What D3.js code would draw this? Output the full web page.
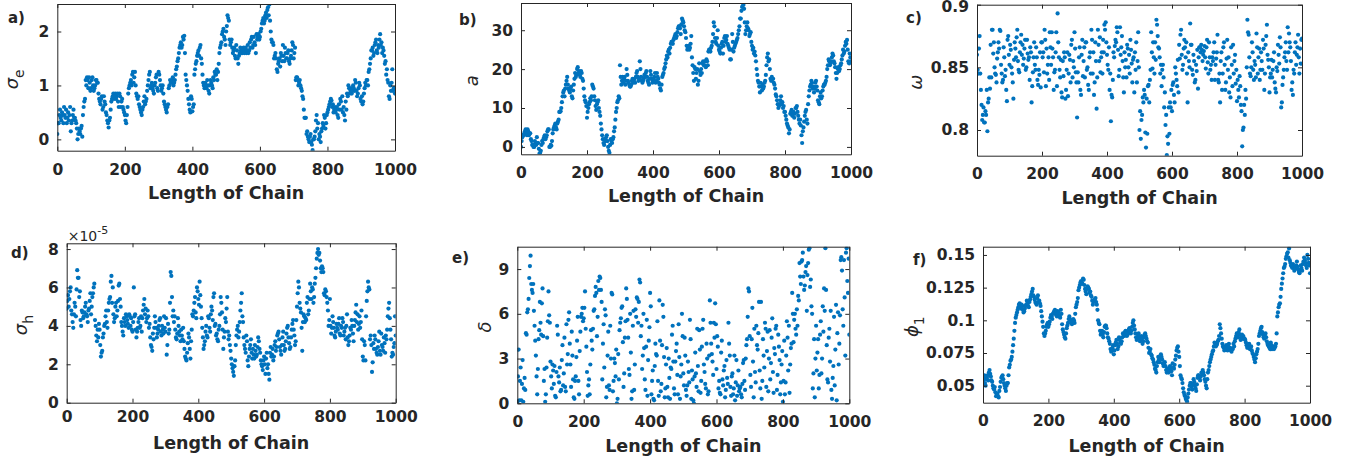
<!DOCTYPE html>
<html>
<head>
<meta charset="utf-8">
<script src="https://cdn.jsdelivr.net/npm/d3@7"></script>
<style>
  body { margin: 0; background: #fff; }
  text { font-family: "DejaVu Sans", sans-serif; fill: #262626; }
</style>
</head>
<body>
<div id="chart"></div>
<script>
var svgWidth = 1362;
var svgHeight = 462;

// chain samples: main arrays at iterations 0,4,...,1000,
// the *Mid arrays at iterations 2,6,...,998
var iterStep = 4;
var chainTicks = [0, 200, 400, 600, 800, 1000];

// a) sigma_e
var sigmaE = [
  0.1,0.3,0.55,0.35,0.45,0.6,0.4,0.3,0.5,0.45,0.15,0.35,0.55,0.4,0.3,0.0,0.2,0.1,0.25,0.45,0.7,1.1,1.15,0.95,1.05,
  0.95,1.15,0.9,1.0,1.1,1.05,0.75,0.65,0.8,0.6,0.7,0.5,0.35,0.22,0.4,0.7,0.8,0.75,0.85,0.8,0.7,0.85,0.6,0.75,0.55,
  0.45,0.3,0.6,0.95,1.05,1.0,1.25,1.15,1.0,0.8,0.8,0.6,0.5,0.55,0.7,0.65,0.75,1.0,1.2,0.95,1.05,0.9,1.0,1.15,0.95,
  1.25,1.1,0.9,1.0,0.7,0.6,0.5,0.65,1.0,1.05,1.1,1.0,1.1,1.3,1.45,1.6,1.75,1.7,1.9,1.92,1.2,1.0,0.75,0.55,0.8,
  0.52,0.65,1.3,1.45,1.6,1.55,1.75,1.4,1.05,0.95,1.0,1.1,0.9,1.0,1.05,0.95,1.1,1.2,1.3,1.25,1.6,1.75,1.95,2.05,1.85,
  2.0,2.3,2.2,1.75,1.85,1.6,1.7,1.5,1.65,1.4,1.6,1.65,1.6,1.7,1.65,1.6,1.75,1.65,1.7,1.9,1.75,1.8,1.6,1.85,1.95,
  1.9,2.05,2.2,2.15,2.3,2.25,2.45,2.5,2.0,1.8,1.75,1.55,1.5,1.25,1.45,1.35,1.55,1.75,1.45,1.6,1.5,1.65,1.4,1.55,1.8,
  1.5,1.7,1.15,1.1,1.05,1.0,0.9,0.75,0.4,0.4,0.15,0.0,0.05,-0.05,-0.2,0.0,0.15,0.45,0.3,0.1,-0.05,0.2,0.25,0.4,0.3,
  0.5,0.6,0.7,0.72,0.65,0.55,0.5,0.6,0.4,0.55,0.7,0.8,0.6,0.35,0.55,0.8,0.95,0.9,0.85,1.0,0.9,1.05,0.8,0.95,1.0,
  0.7,0.65,0.85,1.05,1.1,1.0,1.3,1.5,1.65,1.55,1.75,1.85,1.6,1.7,1.95,1.8,1.7,1.55,1.45,1.3,1.05,0.75,0.9,1.3,0.95,
  0.85
];
var sigmaEMid = [
  0.3,0.45,0.4,0.5,0.3,0.45,0.55,0.4,0.35,0.6,0.3,0.45,0.4,0.35,0.2,0.1,0.15,0.2,0.05,0.6,0.75,1.0,1.1,1.15,0.9,
  1.1,1.0,0.95,1.1,1.05,0.85,0.7,0.75,0.55,0.8,0.65,0.45,0.3,0.35,0.55,0.75,0.85,0.8,0.75,0.85,0.6,0.8,0.7,0.6,0.5,
  0.35,0.45,0.85,1.0,1.1,1.2,1.05,1.25,0.85,0.75,0.65,0.55,0.45,0.6,0.8,0.7,0.9,1.1,1.25,1.0,0.95,0.85,1.05,1.2,0.9,
  1.2,1.0,0.95,0.85,0.65,0.55,0.6,0.95,1.1,1.05,1.15,1.05,1.2,1.35,1.5,1.7,1.8,1.75,1.85,1.6,1.1,0.9,0.65,0.5,0.75,
  0.6,1.2,1.4,1.55,1.65,1.7,1.5,1.2,1.0,1.05,0.95,1.0,0.85,1.1,1.0,1.15,1.25,1.2,1.1,1.4,1.7,1.8,2.0,1.9,1.75,
  2.1,2.25,1.85,1.8,1.7,1.65,1.55,1.75,1.5,1.55,1.7,1.6,1.65,1.6,1.7,1.65,1.6,1.8,1.85,1.7,1.9,1.75,1.95,1.9,1.85,
  2.0,2.15,2.25,2.2,2.35,2.4,2.3,2.2,1.85,1.8,1.5,1.6,1.3,1.4,1.5,1.6,1.45,1.55,1.7,1.5,1.6,1.45,1.5,1.65,1.75,
  1.6,1.1,1.15,1.0,1.1,0.95,0.8,0.55,0.4,0.1,0.05,-0.05,0.1,-0.1,0.0,0.05,0.35,0.2,0.0,0.05,0.15,0.3,0.45,0.2,0.45,
  0.55,0.65,0.75,0.6,0.5,0.6,0.55,0.45,0.65,0.75,0.55,0.5,0.45,0.7,0.85,1.0,0.85,0.95,0.9,0.95,1.1,0.9,0.85,1.05,0.75,
  0.8,0.7,0.95,1.0,1.1,1.25,1.4,1.65,1.7,1.6,1.8,1.65,1.75,1.85,1.75,1.6,1.65,1.4,1.2,1.1,0.8,1.0,1.05,0.9,0.95
];
var sigmaETicks = [0, 1, 2];

// b) a
var aParam = [
  0,2.5,3,4,3.5,4.5,3,3.5,1.5,0.5,0,1,2.5,1,-1.7,-1,1.5,2,3,2.5,4,4.5,0,0.3,3.5,
  5,6,4.5,6.5,9,9.2,11.5,14,13,16,18,15,14,15.5,12.5,16,19,18.5,20.5,19.5,18,19,17,13,11.5,
  7.5,10,11.5,12,16,15,12,9.5,11.5,10,8,4.5,2,0.5,1.5,3,0,-1.5,2,1,2.5,5,9,11.5,13,
  21,16,18,17.5,16,20,17,16,15.5,17,16.5,17.5,18,19.5,17,22,18,16.5,17.5,18,19.5,17,16,19.5,17.5,
  17,18,16.5,19,17.5,16,14.5,18,19,20.5,22.5,23,25,25.5,27,26.5,28,29,28.5,30.5,31,29,33,32,30,
  28,25,26,25.5,28.5,21,17,20,19,16,21.5,18.5,19,22,21,20.5,22,24.5,25,25.5,27,32,28,26.5,30,
  25,24,26.5,24,28,27,28.5,26,25,22.5,29,24.5,26,27,28,30,33,35,37,35.5,29,31,30.5,28.5,29.5,
  26,25.5,24.5,22,18.5,16.5,14,15.5,16,15.5,17,21,24,22.5,17.5,18,17.5,16,13.5,12,10,11,13,11.5,10.5,
  9,7,5.5,3.5,8.5,9.5,8.5,7.5,10,10.5,8,6,5.5,1,5,8,9.5,6,13,15.5,17,15,14,16.5,15.5,
  12,11,14,13,15.5,16,17,20,22.5,21,22,24,22,20.5,17.5,20,19.5,21,22.5,25,24.5,27,27.5,22,24,
  22
];
var aParamMid = [
  1.5,3,3.5,4.5,3,4,3.5,2,0.5,0,1.5,0.5,1,-0.5,-1.5,0.5,1,2.5,2,3,4.5,0,0.5,1.5,4.5,
  5.5,5,6,7,9,10,13,14.5,15,17,16,14.5,15,13,14.5,17.5,18,20,19,18.5,19.5,17.5,15,12,10.5,
  9,11,12.5,13,15.5,13,10.5,11,12,9,6,3,1,2,2.5,1.5,-1,0.5,1.5,2,4,7,10,12,12.5,
  18,17,16.5,18,17,18.5,16.5,15.5,16,17.5,17,16.5,19,18,17.5,20,17,17,18.5,19,18,16.5,17.5,18.5,16.5,
  17.5,19,17,18,16.5,15,16,18.5,20,21.5,23.5,24.5,24,26.5,27,27.5,28.5,28,29.5,31,30.5,31.5,32.5,31,29.5,
  26,25.5,25,26.5,23,19,20.5,17.5,20,17,19.5,20,21.5,21,22,22.5,21,25,24.5,26,29,31,27,28,26,
  24.5,25.5,27,26,28.5,27.5,26.5,25.5,22.5,25,27,25.5,26.5,27.5,29,31,33,36,36.5,32,30,32,30,29,27,
  25,24,23.5,20,17,15.5,16.5,14.5,15,16.5,18.5,23,22,20,17,17.5,16.5,15,13,11,10.5,12,11,10,9,
  8,6,5,4.5,9,8,9,8.5,10,9,7,7,3,4,6.5,9,7,11,14.5,16,16.5,15.5,15,17,14.5,
  11.5,13,12.5,14.5,16,16.5,18,21,22,21.5,23,23.5,21.5,19,19,20.5,20,21.5,23.5,24,26,26.5,25,21.5,23
];
var aParamTicks = [0, 10, 20, 30];

// c) omega
var omega = [
  .860,.845,.875,.832,.808,.818,.806,.812,.799,.825,.833,.842,.880,.870,.845,.838,.862,.865,.879,.845,.840,.858,.848,.823,.875,
  .852,.864,.845,.825,.870,.858,.880,.848,.862,.876,.868,.857,.872,.850,.861,.858,.866,.822,.846,.870,.848,.858,.836,.844,.834,
  .870,.862,.880,.835,.845,.858,.878,.852,.865,.832,.848,.878,.893,.858,.842,.830,.855,.862,.825,.848,.827,.860,.838,.872,.855,
  .878,.846,.810,.838,.866,.828,.872,.855,.842,.870,.850,.832,.862,.880,.845,.828,.870,.817,.880,.855,.846,.862,.872,.884,.886,
  .860,.848,.832,.807,.826,.862,.867,.870,.878,.843,.882,.866,.855,.830,.850,.842,.865,.860,.872,.853,.856,.830,.848,.838,.878,
  .800,.793,.812,.822,.828,.786,.797,.836,.840,.878,.849,.858,.870,.888,.875,.865,.845,.835,.852,.818,.804,.780,.789,.797,.818,
  .815,.838,.822,.845,.835,.830,.857,.880,.848,.865,.866,.870,.822,.855,.885,.868,.844,.855,.840,.847,.833,.866,.862,.864,.860,
  .867,.849,.872,.845,.858,.852,.858,.862,.840,.857,.876,.838,.822,.862,.845,.870,.832,.857,.848,.830,.826,.852,.868,.855,.837,
  .823,.832,.843,.820,.787,.802,.812,.825,.888,.876,.845,.850,.862,.840,.852,.877,.845,.865,.848,.855,.872,.832,.868,.884,.856,
  .830,.845,.842,.855,.838,.830,.847,.860,.874,.818,.836,.848,.862,.855,.882,.877,.866,.832,.828,.845,.870,.860,.876,.845,.853,
  .873
];
var omegaMid = [
  .848,.865,.845,.820,.812,.806,.815,.832,.822,.842,.868,.880,.861,.850,.844,.857,.870,.880,.852,.838,.866,.843,.832,.872,.860,
  .868,.850,.838,.856,.865,.874,.855,.846,.870,.860,.852,.865,.848,.872,.856,.840,.862,.835,.858,.852,.866,.840,.848,.862,.870,
  .858,.846,.872,.865,.852,.840,.866,.878,.858,.846,.862,.835,.870,.848,.856,.826,.843,.858,.832,.862,.845,.856,.868,.842,.850,
  .865,.838,.846,.858,.832,.860,.843,.866,.870,.848,.836,.858,.845,.872,.862,.838,.855,.842,.868,.874,.858,.845,.862,.880,.870,
  .852,.866,.845,.828,.840,.858,.872,.882,.864,.848,.860,.875,.842,.862,.856,.868,.850,.845,.864,.838,.858,.862,.870,.855,.850,
  .815,.808,.826,.832,.798,.825,.835,.822,.848,.862,.870,.845,.856,.884,.866,.858,.852,.848,.842,.830,.812,.795,.818,.822,.832,
  .836,.828,.850,.840,.856,.868,.876,.860,.852,.872,.858,.845,.862,.850,.868,.848,.860,.838,.852,.864,.858,.866,.868,.855,.863,
  .858,.866,.854,.870,.848,.840,.855,.870,.852,.862,.840,.845,.855,.832,.866,.852,.838,.872,.858,.842,.866,.835,.845,.860,.848,
  .840,.826,.835,.815,.800,.820,.832,.850,.878,.858,.843,.870,.848,.855,.842,.866,.858,.840,.862,.848,.865,.845,.875,.860,.850,
  .842,.856,.848,.862,.833,.850,.868,.853,.866,.822,.842,.858,.870,.848,.862,.870,.855,.838,.848,.862,.852,.866,.858,.865,.872
];
var omegaTicks = [0.8, 0.85, 0.9];

// d) sigma_h, in units of 1e-5
var sigmaH = [
  4.9,5.6,5.4,6.0,4.6,3.9,5.2,4.5,6.9,6.5,5.8,4.0,4.7,4.5,5.0,4.6,4.2,4.9,5.7,5.0,5.7,6.2,4.0,3.2,3.4,
  3.8,2.4,2.7,3.6,4.1,4.8,3.9,5.2,5.5,6.6,6.0,4.2,5.0,4.5,5.3,6.2,5.0,4.0,3.5,4.2,4.6,4.3,3.9,4.5,4.4,
  3.7,6.0,4.6,3.4,3.9,4.4,4.0,3.7,4.8,5.4,4.9,4.4,4.5,4.1,3.0,2.7,3.3,4.5,3.9,3.6,4.0,4.4,3.5,3.8,4.5,
  3.7,2.5,4.1,3.8,6.8,5.5,4.8,4.5,3.4,3.6,4.0,3.5,3.8,3.3,3.2,2.4,2.2,3.1,3.4,2.3,3.8,4.5,5.2,4.7,6.0,
  5.4,6.3,5.0,3.9,2.8,3.2,4.0,3.4,4.4,3.7,5.0,4.3,5.7,4.1,3.6,3.2,4.0,5.5,4.7,2.8,3.7,4.2,5.5,3.3,3.0,
  2.3,1.8,1.4,2.2,3.5,4.0,3.7,4.8,5.7,4.2,3.0,2.6,3.2,1.9,2.8,3.3,2.3,2.5,3.0,2.4,2.9,3.2,2.6,2.0,1.7,
  2.4,1.5,2.6,2.0,1.2,2.9,2.5,2.2,3.0,2.7,3.5,3.7,2.9,2.5,3.4,3.0,2.8,3.6,4.0,3.1,2.9,3.8,4.3,3.5,3.2,
  5.0,6.3,5.2,4.7,2.7,4.6,4.2,4.3,5.5,4.8,6.2,5.4,5.9,5.5,6.5,7.5,8.0,7.8,7.0,7.1,6.8,5.6,5.8,5.2,4.0,
  5.4,3.6,4.5,3.9,3.4,4.1,3.8,4.4,3.5,3.9,4.2,3.7,3.3,4.6,3.0,3.5,3.8,4.0,3.2,4.3,5.1,4.6,4.1,3.9,4.8,
  2.4,3.2,2.2,5.3,6.3,5.9,3.5,1.6,3.1,3.5,2.8,2.5,3.2,2.7,3.6,2.9,3.4,2.6,3.3,4.5,5.2,3.8,2.4,2.5,3.1,
  3.5
];
var sigmaHMid = [
  5.3,5.0,5.8,4.8,4.2,4.6,5.0,5.9,6.5,5.5,4.3,4.8,4.4,4.7,5.2,4.5,4.8,5.3,4.6,5.5,6.0,4.3,3.5,3.8,4.1,
  3.0,2.6,3.4,4.0,4.5,4.2,4.8,5.4,6.3,5.2,4.6,4.4,5.2,4.8,6.1,5.4,4.2,3.7,4.4,4.0,4.5,4.1,4.6,4.0,3.8,
  4.2,4.5,3.8,3.7,4.2,3.9,4.5,4.4,5.1,4.6,4.2,4.8,3.9,3.4,2.9,3.6,3.9,4.2,3.4,3.8,4.3,3.7,4.0,3.6,3.9,
  4.4,3.0,3.6,5.2,6.6,4.5,4.2,3.8,3.3,4.4,3.7,3.2,3.5,3.9,2.8,2.3,2.6,3.6,2.8,3.2,4.6,4.8,5.5,4.4,5.8,
  5.1,5.6,4.4,3.4,3.0,3.7,3.5,4.5,3.9,4.6,4.8,5.5,4.0,3.5,3.3,3.8,4.6,5.2,3.8,3.4,4.4,4.9,3.7,3.5,2.7,
  2.0,1.6,1.9,3.0,3.8,3.4,4.2,5.2,4.5,3.4,2.8,3.5,2.2,2.4,3.0,2.6,2.8,2.3,2.7,2.5,3.4,2.8,2.2,1.9,2.2,
  2.0,2.3,1.8,1.5,2.6,2.4,2.8,2.4,3.2,2.9,3.6,3.3,2.7,3.0,3.7,2.7,3.2,3.9,3.4,2.8,3.4,4.1,3.8,3.0,4.3,
  5.7,6.0,4.9,3.9,4.2,4.5,4.4,5.2,4.6,5.4,5.8,6.0,5.2,6.2,7.0,7.8,7.7,7.4,6.8,7.0,5.7,5.9,5.5,4.8,4.3,
  4.0,3.9,4.2,3.5,3.7,3.9,4.1,3.6,4.0,4.4,3.5,3.9,4.0,3.4,3.2,3.9,4.3,3.6,4.0,4.7,4.2,3.8,4.5,4.2,3.3,
  2.2,3.0,4.5,5.8,6.0,3.3,3.0,2.1,2.8,3.3,2.6,2.9,3.7,2.5,3.0,2.7,3.1,3.5,3.8,4.9,4.4,3.3,2.6,2.9,4.5
];
var sigmaHTicks = [0, 2, 4, 6, 8];

// e) delta
var delta = [
  0.1,3.6,1.5,0.2,2.9,1.0,0.9,4.6,6.3,8.4,9.9,7.6,8.0,5.2,3.2,0.6,4.3,6.8,4.6,7.7,1.5,0.1,2.4,5.5,5.9,
  2.8,1.0,2.2,2.5,0.4,5.2,1.8,2.4,0.9,3.9,2.0,1.1,5.3,3.3,6.1,2.6,4.8,1.6,0.3,1.8,4.2,1.5,3.5,5.8,6.4,
  5.7,7.5,3.8,0.5,1.6,2.6,4.2,5.0,6.3,7.8,4.5,8.2,8.5,7.6,1.6,5.3,6.3,0.4,3.2,1.2,5.2,7.4,0.8,3.0,1.8,
  0.0,3.3,4.9,5.7,6.5,1.1,4.4,7.7,5.6,2.3,6.0,0.3,5.2,0.9,6.3,7.1,5.4,8.3,4.5,2.3,6.0,1.6,3.8,0.5,4.2,
  7.4,0.6,2.2,0.2,4.0,3.2,1.5,6.9,0.8,3.9,5.8,0.4,2.6,1.1,3.0,0.3,2.3,5.2,1.0,2.8,4.0,0.6,3.1,1.8,6.0,
  2.0,4.4,0.9,1.2,2.1,5.6,0.3,1.6,0.0,3.4,1.1,2.5,4.9,0.7,3.8,5.6,2.1,1.0,3.0,0.8,6.9,4.0,2.8,5.4,6.7,
  2.3,3.8,1.5,0.6,4.2,1.2,2.5,0.9,1.7,5.4,3.2,0.5,2.0,1.0,0.2,2.9,1.2,0.8,1.1,0.4,2.7,1.5,3.0,4.3,7.7,
  4.5,1.1,6.4,0.4,2.1,5.2,3.6,6.8,1.0,0.3,4.3,2.4,5.0,3.5,0.8,4.9,2.7,5.7,0.7,3.3,5.2,1.9,3.8,0.6,2.6,
  0.1,4.2,1.4,5.5,2.2,0.7,3.7,7.4,4.1,6.0,4.6,5.2,6.9,8.5,9.5,10.1,7.6,8.8,6.2,9.4,10.4,8.3,6.0,2.0,0.4,
  5.2,3.4,1.0,4.6,2.0,6.5,7.7,10.4,3.9,1.4,5.0,6.2,0.3,2.5,1.2,6.6,4.7,2.6,5.9,9.8,6.3,9.6,3.2,10.4,7.4,
  4.6
];
var deltaMid = [
  1.8,0.2,2.4,1.3,0.1,1.7,4.7,6.1,7.0,9.2,8.0,7.4,6.2,4.2,1.8,2.3,4.9,5.4,6.7,4.5,2.3,0.6,4.4,7.5,5.4,
  1.8,2.6,1.3,0.5,2.1,4.6,1.4,0.8,2.9,1.2,4.4,0.8,2.6,5.6,4.0,1.1,3.2,0.4,1.5,3.1,5.8,0.6,4.8,6.0,5.5,
  6.4,5.0,2.1,1.2,0.6,4.9,3.6,6.2,7.2,7.4,5.8,7.6,8.4,6.8,4.0,2.4,5.9,1.1,4.8,0.9,3.0,7.3,1.5,2.7,3.6,
  0.3,1.6,5.4,6.4,4.1,2.0,5.5,7.0,4.4,1.9,3.4,0.8,6.2,2.6,5.8,7.0,6.8,8.1,5.2,3.2,3.7,0.9,5.6,2.9,5.1,
  6.5,1.5,0.3,2.5,3.3,5.5,0.5,4.2,1.3,6.6,3.1,1.0,3.7,0.4,1.7,2.4,4.6,2.8,0.6,3.5,1.9,5.3,0.3,2.6,4.5,
  1.2,3.2,0.5,2.8,1.4,4.3,2.2,0.2,1.8,2.0,5.0,0.8,3.6,1.5,5.0,2.6,1.3,4.0,0.6,3.2,5.4,3.3,1.9,4.4,5.3,
  4.5,1.0,0.7,3.4,1.6,2.2,0.4,2.9,1.3,4.0,1.1,1.8,0.6,3.2,1.4,0.5,2.2,1.0,0.6,1.3,2.9,0.9,3.9,5.8,7.5,
  1.9,4.3,2.8,5.0,1.4,3.9,4.7,2.2,6.8,1.5,3.2,5.4,1.1,4.8,3.0,1.6,4.4,2.1,3.7,5.0,0.9,4.6,2.9,1.4,3.5,
  1.5,0.6,3.2,4.4,5.2,2.6,4.0,6.0,5.6,5.0,6.3,7.2,9.4,8.0,9.6,8.5,7.9,9.2,8.6,10.3,7.8,6.5,1.0,4.3,3.0,
  2.2,4.3,1.9,5.5,3.0,4.8,6.2,7.6,1.6,4.4,2.8,0.9,1.7,5.8,3.6,0.2,6.1,4.0,9.6,8.9,5.2,7.1,10.1,8.2,9.7
];
var deltaTicks = [0, 3, 6, 9];

// f) phi_1
var phi1 = [
  .054,.058,.050,.056,.054,.062,.057,.053,.048,.049,.042,.044,.041,.049,.056,.058,.052,.048,.050,.052,.064,.069,.072,.081,.092,
  .102,.106,.110,.113,.109,.111,.106,.109,.112,.113,.110,.116,.120,.124,.118,.114,.112,.119,.115,.111,.103,.095,.088,.092,.097,
  .095,.099,.104,.101,.106,.108,.104,.107,.104,.102,.105,.093,.089,.086,.094,.098,.103,.100,.097,.101,.098,.110,.114,.123,.127,
  .130,.128,.131,.124,.120,.126,.124,.122,.118,.112,.115,.117,.112,.100,.097,.089,.092,.087,.095,.096,.090,.086,.082,.076,.079,
  .074,.081,.085,.078,.087,.083,.084,.090,.088,.092,.088,.091,.094,.090,.095,.100,.093,.087,.086,.090,.084,.088,.082,.087,.090,
  .086,.083,.075,.078,.073,.070,.066,.062,.065,.072,.068,.074,.070,.065,.068,.062,.063,.060,.065,.061,.067,.063,.070,.077,.080,
  .072,.058,.055,.048,.043,.040,.038,.044,.050,.052,.047,.055,.050,.046,.056,.058,.054,.060,.062,.058,.053,.048,.060,.065,.070,
  .074,.077,.083,.080,.082,.085,.097,.090,.082,.079,.078,.081,.077,.082,.079,.076,.078,.080,.086,.090,.087,.093,.085,.089,.088,
  .086,.083,.079,.081,.078,.080,.075,.072,.068,.074,.078,.088,.092,.095,.089,.086,.090,.084,.081,.079,.083,.078,.080,.079,.082,
  .103,.110,.113,.124,.132,.140,.143,.149,.152,.155,.144,.141,.143,.138,.140,.145,.139,.136,.142,.138,.145,.146,.142,.150,.144,
  .136
];
var phi1Mid = [
  .056,.052,.055,.058,.060,.059,.054,.050,.047,.045,.043,.042,.046,.053,.057,.055,.050,.046,.052,.058,.066,.070,.076,.086,.098,
  .104,.108,.112,.110,.112,.108,.107,.111,.115,.111,.114,.118,.122,.119,.116,.113,.117,.114,.113,.107,.099,.090,.090,.095,.098,
  .097,.102,.103,.105,.107,.105,.103,.106,.103,.108,.097,.091,.087,.090,.096,.101,.101,.098,.099,.100,.105,.112,.117,.125,.129,
  .128,.132,.127,.122,.124,.125,.121,.119,.115,.114,.116,.114,.108,.098,.092,.090,.089,.091,.096,.094,.087,.084,.078,.077,.081,
  .077,.083,.082,.080,.085,.082,.087,.089,.091,.090,.089,.093,.092,.092,.098,.096,.090,.085,.088,.087,.086,.085,.084,.089,.088,
  .084,.079,.076,.074,.071,.068,.063,.060,.068,.070,.071,.072,.067,.066,.065,.060,.062,.064,.063,.058,.064,.066,.073,.079,.076,
  .065,.056,.052,.045,.042,.039,.041,.047,.052,.049,.051,.053,.048,.051,.058,.056,.057,.059,.060,.055,.050,.055,.062,.068,.072,
  .076,.080,.082,.081,.084,.088,.094,.086,.080,.077,.080,.079,.080,.078,.077,.078,.082,.084,.088,.089,.091,.089,.087,.086,.086,
  .085,.081,.080,.082,.079,.077,.074,.070,.071,.076,.082,.090,.094,.091,.087,.088,.087,.082,.080,.078,.081,.079,.078,.080,.090,
  .106,.112,.118,.128,.136,.141,.147,.151,.148,.146,.142,.140,.141,.139,.142,.141,.137,.138,.140,.143,.148,.144,.140,.147,.142
];
var phi1Ticks = [0.05, 0.075, 0.1, 0.125, 0.15];

// layout of the six subplots (pixel box of each axes + where its labels sit)
var panels = [
  {tag: "a)", values: sigmaE, mids: sigmaEMid, ticks: sigmaETicks, domain: [-0.21, 2.51],
   box: {left: 57.3, right: 395, top: 4, bottom: 150.7}, pad: 13, titleY: 199,
   label: {main: "σ", sub: "e", x: 18}, tagPos: [8, 23]},
  {tag: "b)", values: aParam, mids: aParamMid, ticks: aParamTicks, domain: [-1.9, 37],
   box: {left: 521, right: 851, top: 3, bottom: 154.3}, pad: 13, titleY: 202,
   label: {main: "a", sub: "", x: 478}, tagPos: [459, 25]},
  {tag: "c)", values: omega, mids: omegaMid, ticks: omegaTicks, domain: [0.7795, 0.9],
   box: {left: 977, right: 1302, top: 4.7, bottom: 155.7}, pad: 12, titleY: 204,
   label: {main: "ω", sub: "", x: 922}, tagPos: [906, 23]},
  {tag: "d)", values: sigmaH, mids: sigmaHMid, ticks: sigmaHTicks, domain: [0, 8.3],
   box: {left: 66.7, right: 395.7, top: 243.3, bottom: 402.7}, pad: 8, titleY: 449,
   label: {main: "σ", sub: "h", x: 27}, tagPos: [11, 258], exponent: "-5"},
  {tag: "e)", values: delta, mids: deltaMid, ticks: deltaTicks, domain: [0, 10.5],
   box: {left: 517.3, right: 849.3, top: 246.7, bottom: 403.3}, pad: 13, titleY: 452,
   label: {main: "δ", sub: "", x: 491}, tagPos: [452, 263]},
  {tag: "f)", values: phi1, mids: phi1Mid, ticks: phi1Ticks, domain: [0.037, 0.1563],
   box: {left: 983, right: 1310, top: 246.7, bottom: 402.7}, pad: 12, titleY: 452,
   label: {main: "ϕ", sub: "1", x: 918}, tagPos: [913, 265]}
];

var dotColor = "#0072BD";
var axisColor = "#262626";
var tickFmt = d => String(+d.toFixed(3));

var svg = d3.select("#chart")
  .append("svg")
  .attr("width", svgWidth)
  .attr("height", svgHeight);

panels.forEach(function(p, k) {
  var b = p.box;
  var xScale = d3.scaleLinear().domain([0, 1000]).range([b.left, b.right]);
  var yScale = d3.scaleLinear().domain(p.domain).range([b.bottom, b.top]);

  var samples = p.values.map((v, i) => ({it: i * iterStep, v: v}))
    .concat(p.mids.map((v, i) => ({it: i * iterStep + iterStep / 2, v: v})));

  svg.append("clipPath")
    .attr("id", "clip" + k)
    .append("rect")
    .attr("x", b.left).attr("y", b.top)
    .attr("width", b.right - b.left).attr("height", b.bottom - b.top);

  // samples
  svg.append("g")
    .attr("clip-path", `url(#clip${k})`)
    .selectAll("circle")
    .data(samples)
    .enter()
    .append("circle")
    .attr("cx", d => xScale(d.it))
    .attr("cy", d => yScale(d.v))
    .attr("r", 2.1)
    .attr("fill", dotColor);

  // box with inward ticks on all four sides, MATLAB style
  var axes = [
    {gen: d3.axisBottom(xScale).tickValues(chainTicks), at: `translate(0,${b.bottom})`, labels: true},
    {gen: d3.axisTop(xScale).tickValues(chainTicks), at: `translate(0,${b.top})`, labels: false},
    {gen: d3.axisLeft(yScale).tickValues(p.ticks), at: `translate(${b.left},0)`, labels: true},
    {gen: d3.axisRight(yScale).tickValues(p.ticks), at: `translate(${b.right},0)`, labels: false}
  ];
  axes.forEach(function(a, j) {
    a.gen.tickSize(-4).tickSizeOuter(0).tickPadding(j == 0 ? p.pad : 8)
      .tickFormat(a.labels ? tickFmt : "");
    var g = svg.append("g").attr("transform", a.at).call(a.gen);
    g.select(".domain").attr("stroke", axisColor).attr("stroke-width", 1);
    g.selectAll(".tick line").attr("stroke", axisColor);
    g.selectAll(".tick text")
      .attr("fill", axisColor)
      .style("font-size", "15.5px")
      .style("font-weight", "bold")
      .style("font-family", "'DejaVu Sans', sans-serif");
    // keep a label sitting on the very top edge inside the page
    if (j == 2) {
      g.selectAll(".tick text")
        .filter(d => yScale(d) < 7)
        .attr("y", d => 7 - yScale(d));
    }
  });

  // x title
  svg.append("text")
    .attr("x", (b.left + b.right) / 2)
    .attr("y", p.titleY)
    .attr("text-anchor", "middle")
    .style("font-size", "17.5px")
    .style("font-weight", "bold")
    .text("Length of Chain");

  // y label, rotated
  var yl = svg.append("text")
    .attr("transform", `translate(${p.label.x},${(b.top + b.bottom) / 2 + 2}) rotate(-90)`)
    .attr("text-anchor", "middle")
    .style("font-size", "18px");
  yl.append("tspan").style("font-style", "italic").text(p.label.main);
  if (p.label.sub) {
    yl.append("tspan").attr("dy", 6).style("font-size", "14px").text(p.label.sub);
  }

  // panel tag
  svg.append("text")
    .attr("x", p.tagPos[0])
    .attr("y", p.tagPos[1])
    .style("font-size", "15px")
    .style("font-weight", "bold")
    .text(p.tag);

  if (p.exponent) {
    var ex = svg.append("text")
      .attr("x", b.left + 1)
      .attr("y", b.top - 2)
      .style("font-size", "14px")
      .text("×10");
    ex.append("tspan").attr("dy", -7).style("font-size", "11px").text(p.exponent);
  }
});
</script>
</body>
</html>
